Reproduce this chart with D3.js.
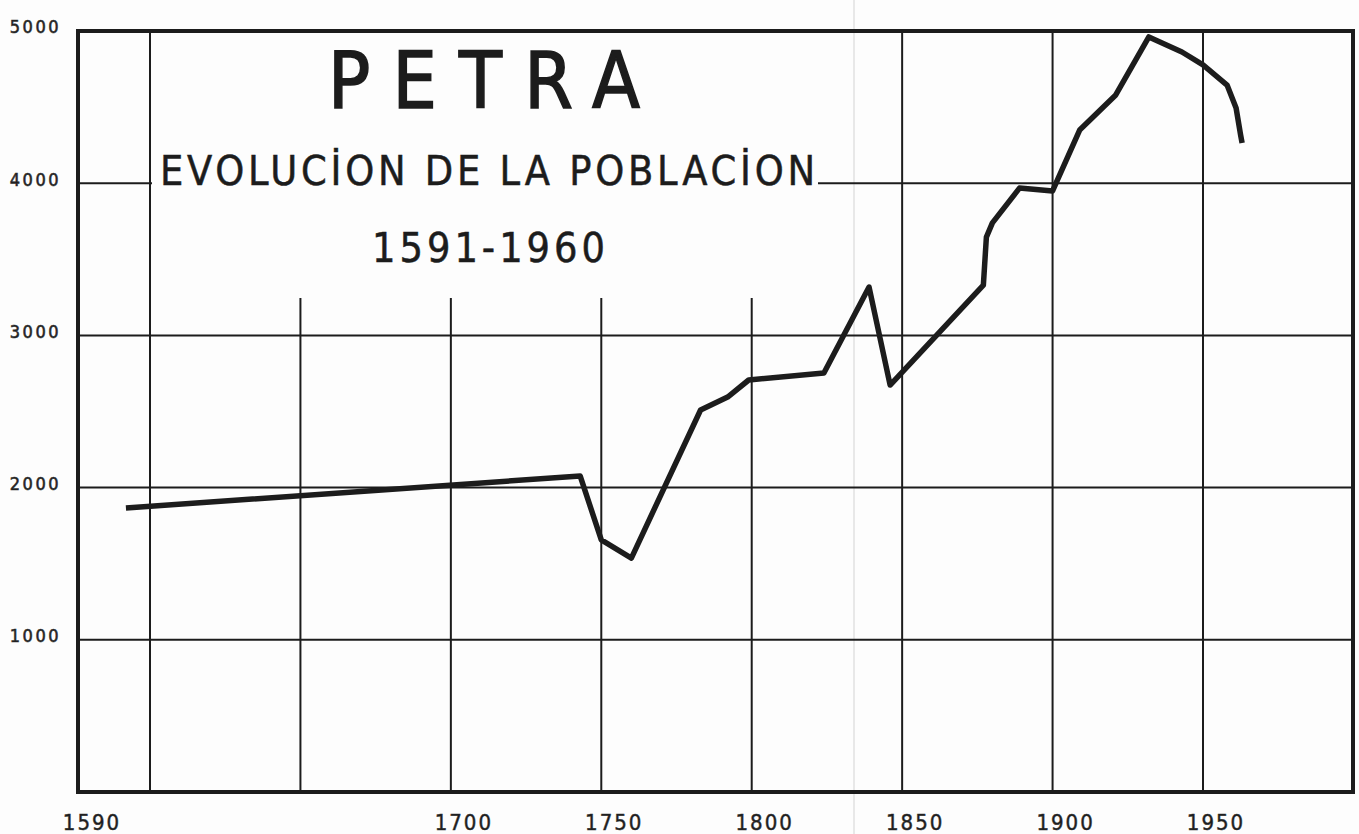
<!DOCTYPE html>
<html>
<head>
<meta charset="utf-8">
<script src="https://cdn.jsdelivr.net/npm/d3@7"></script>
<style>
  body { margin: 0; background: #fdfdfd; }
  svg text { font-family: "DejaVu Sans Condensed", "DejaVu Sans", sans-serif; fill: #1c1c1c; }
</style>
</head>
<body>
<svg id="chart" width="1359" height="834"></svg>
<script>
// Population of Petra
const years = [1592, 1743, 1750, 1760, 1783, 1792, 1799, 1824, 1839, 1846, 1877, 1878, 1880,
  1889, 1900, 1909, 1921, 1932, 1943, 1950, 1958, 1961, 1962.5, 1963];
const population = [1866, 2076, 1656, 1537, 2510, 2595, 2707, 2753, 3318, 2674, 3331, 3646, 3739,
  3968, 3949, 4349, 4580, 4961, 4862, 4777, 4645, 4494, 4317, 4264];

const yTicks = [1000, 2000, 3000, 4000, 5000];
const xTickYears = [1700, 1750, 1800, 1850, 1900, 1950];
const originLabel = '1590';
const gridYears = [1600, 1650, 1700, 1750, 1800, 1850, 1900, 1950];
const shortGridYears = [1650, 1700, 1750, 1800];  // these stop below the title block

const titleText = 'PETRA';
const subtitleText = 'EVOLUCİON DE LA POBLACİON';
const periodText = '1591-1960';

/** Frame and scales */
const frame = { left: 78, right: 1353, top: 31, bottom: 792 };
const svg = d3.select('#chart');

const xScale = d3.scaleLinear().domain([1600, 1950]).range([150, 1203]);
const yScale = d3.scaleLinear().domain([0, 5000]).range([frame.bottom, frame.top]);

const ink = '#1c1c1c';

// Vertical grid lines
svg.append('g')
    .selectAll('line')
    .data(gridYears)
    .enter()
    .append('line')
    .attr('x1', d => xScale(d))
    .attr('x2', d => xScale(d))
    .attr('y1', d => shortGridYears.includes(d) ? 298 : frame.top)
    .attr('y2', frame.bottom)
    .attr('stroke', ink)
    .attr('stroke-width', 2);

// faint fold line of the scanned sheet
svg.append('line')
    .attr('x1', 854).attr('x2', 854)
    .attr('y1', 0).attr('y2', 834)
    .attr('stroke', '#e8e8e8')
    .attr('stroke-width', 2);

// Horizontal grid lines (4000 is broken by the subtitle)
svg.append('g')
    .selectAll('line')
    .data(yTicks.filter(v => v < 4000))
    .enter()
    .append('line')
    .attr('x1', frame.left)
    .attr('x2', frame.right)
    .attr('y1', d => yScale(d))
    .attr('y2', d => yScale(d))
    .attr('stroke', ink)
    .attr('stroke-width', 2);

[[frame.left, xScale(1600) + 2], [818, frame.right]].forEach(([a, b]) => {
    svg.append('line')
        .attr('x1', a).attr('x2', b)
        .attr('y1', yScale(4000)).attr('y2', yScale(4000))
        .attr('stroke', ink)
        .attr('stroke-width', 2);
});

// Outer frame
svg.append('rect')
    .attr('x', frame.left)
    .attr('y', frame.top)
    .attr('width', frame.right - frame.left)
    .attr('height', frame.bottom - frame.top)
    .attr('fill', 'none')
    .attr('stroke', ink)
    .attr('stroke-width', 4);

// Population line
const lineData = years.map((y, i) => ({ year: y, value: population[i] }));
const lineGenerator = d3.line()
    .x(d => xScale(d.year))
    .y(d => yScale(d.value))
    .curve(d3.curveLinear);

svg.append('path')
    .datum(lineData)
    .attr('fill', 'none')
    .attr('stroke', ink)
    .attr('stroke-width', 5.5)
    .attr('stroke-linejoin', 'round')
    .attr('d', lineGenerator);

// Y tick labels
svg.append('g')
    .selectAll('text')
    .data(yTicks)
    .enter()
    .append('text')
    .attr('x', 61)
    .attr('y', d => yScale(d) - 4)
    .attr('dy', '0.35em')
    .attr('text-anchor', 'end')
    .attr('font-size', 18)
    .attr('letter-spacing', 2.5)
    .attr('fill', '#333')
    .attr('stroke', '#333')
    .attr('stroke-width', 0.6)
    .text(d => d);

// X tick labels, hand lettered a little to the right of each line
const xLabels = [{ x: frame.left + 14, label: originLabel }]
    .concat(xTickYears.map(d => ({ x: xScale(d) + 13, label: String(d) })));

svg.append('g')
    .selectAll('text')
    .data(xLabels)
    .enter()
    .append('text')
    .attr('x', d => d.x)
    .attr('y', 822)
    .attr('dy', '0.35em')
    .attr('text-anchor', 'middle')
    .attr('font-size', 22)
    .attr('letter-spacing', 2)
    .attr('fill', '#333')
    .attr('stroke', '#333')
    .attr('stroke-width', 0.5)
    .text(d => d.label);

// Title block
svg.append('text')
    .attr('x', 328)
    .attr('y', 108)
    .attr('font-size', 78)
    .attr('textLength', 312)
    .attr('lengthAdjust', 'spacing')
    .attr('stroke', ink)
    .attr('stroke-width', 1.5)
    .text(titleText);

svg.append('text')
    .attr('x', 160)
    .attr('y', 185)
    .attr('font-size', 41)
    .attr('textLength', 655)
    .attr('lengthAdjust', 'spacing')
    .attr('stroke', ink)
    .attr('stroke-width', 0.5)
    .text(subtitleText);

svg.append('text')
    .attr('x', 372)
    .attr('y', 262)
    .attr('font-size', 41)
    .attr('textLength', 233)
    .attr('lengthAdjust', 'spacing')
    .attr('stroke', ink)
    .attr('stroke-width', 0.5)
    .text(periodText);
</script>
</body>
</html>
